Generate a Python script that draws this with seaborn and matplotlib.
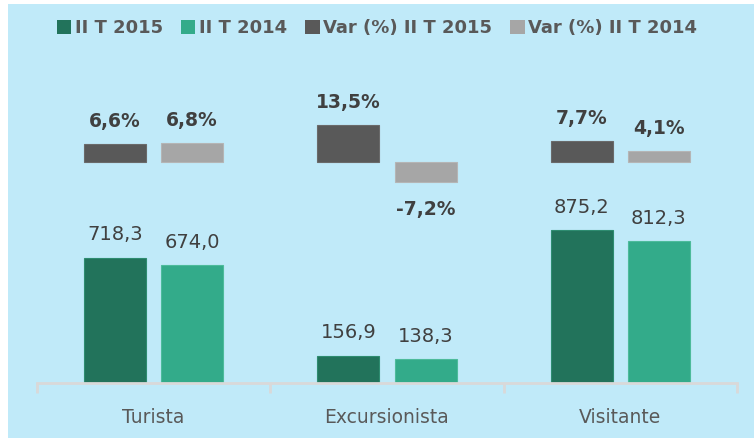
import matplotlib.pyplot as plt
import pandas as pd
import seaborn as sns
from matplotlib.patches import Patch, Rectangle

plt.switch_backend("Agg")

categories = ["Turista", "Excursionista", "Visitante"]
series = ["II T 2015", "II T 2014"]
var_series = ["Var (%) II T 2015", "Var (%) II T 2014"]
values_2015 = [718.3, 156.9, 875.2]
values_2014 = [674.0, 138.3, 812.3]
var_2015 = [6.6, 13.5, 7.7]
var_2014 = [6.8, -7.2, 4.1]

colors = ["#22735B", "#33AB8A"]
var_colors = ["#595959", "#A6A6A6"]
edge_colors = ["#2E8C70", "#4DBB9B"]
var_edge_colors = ["#6A6A6A", "#B5B5B5"]
background = "#C0EAF9"
text_dark = "#404040"
text_grey = "#595959"


def comma(value: float, suffix: str = "") -> str:
    return f"{value:.1f}".replace(".", ",") + suffix


counts = pd.DataFrame(
    {
        "category": categories * 2,
        "series": [series[0]] * 3 + [series[1]] * 3,
        "value": values_2015 + values_2014,
    }
)
changes = pd.DataFrame(
    {
        "category": categories * 2,
        "series": [var_series[0]] * 3 + [var_series[1]] * 3,
        "value": var_2015 + var_2014,
    }
)

W, H = 754, 438
fig = plt.figure(figsize=(W / 100, H / 100), dpi=100, facecolor="white")
fig.patches.append(
    Rectangle((8 / W, 0), 1, (H - 4) / H, transform=fig.transFigure,
              facecolor=background, edgecolor="none", zorder=-10)
)
ax = fig.add_axes([37 / W, (H - 383) / H, 700 / W, 323 / H])
ax.set_facecolor("none")

bar_width, bar_gap = 0.661, 0.195

sns.barplot(data=counts, x="category", y="value", hue="series", hue_order=series,
            palette=colors, width=bar_width, gap=bar_gap, ax=ax, legend=False,
            linewidth=0.8, saturation=1)
for container, edge in zip(ax.containers, edge_colors):
    for patch in container:
        patch.set_edgecolor(edge)

ax2 = ax.twinx()
ax2.set_facecolor("none")
sns.barplot(data=changes, x="category", y="value", hue="series", hue_order=var_series,
            palette=var_colors, width=bar_width, gap=bar_gap, ax=ax2, legend=False,
            linewidth=0.8, saturation=1)
for container, edge in zip(ax2.containers, var_edge_colors):
    for patch in container:
        patch.set_edgecolor(edge)
ax2.set_ylim(-(383 - 162) / 2.73, (162 - 60) / 2.73)
ax.set_ylim(0, 323 / 0.1745)

for container, vals in zip(ax.containers, [values_2015, values_2014]):
    ax.bar_label(container, labels=[comma(v) for v in vals], padding=9.5,
                 fontsize=14, color=text_dark)
for container, vals in zip(ax2.containers, [var_2015, var_2014]):
    ax2.bar_label(container, labels=[comma(v, "%") if v >= 0 else "" for v in vals],
                  padding=9.5, fontsize=13.5, fontweight="bold", color=text_dark)
    ax2.bar_label(container, labels=[comma(v, "%") if v < 0 else "" for v in vals],
                  padding=13, fontsize=13.5, fontweight="bold", color=text_dark)

for axis in (ax, ax2):
    for side in ("top", "right", "left", "bottom"):
        axis.spines[side].set_visible(False)
    axis.set_yticks([])
    axis.set_xlabel("")
    axis.set_ylabel("")

ax.spines["bottom"].set_visible(True)
ax.spines["bottom"].set_color("#D9D9D9")
ax.spines["bottom"].set_linewidth(2)
ax.set_xlim(-0.5, 2.5)
ax.set_xticks(range(len(categories)))
ax.set_xticklabels(categories, fontsize=13.5, color=text_grey)
ax.tick_params(axis="x", which="major", length=0, pad=18)
ax.set_xticks([-0.5, 0.5, 1.5, 2.5], minor=True)
ax.tick_params(axis="x", which="minor", length=7, width=2, color="#D9D9D9")

handles = [Patch(facecolor=c, edgecolor="none") for c in colors + var_colors]
fig.legend(handles, series + var_series, loc="center", ncol=4,
           bbox_to_anchor=(0.5, 1 - 28 / H), frameon=False,
           prop={"weight": "bold", "size": 13}, labelcolor=text_grey,
           handlelength=0.8, handleheight=0.8, handletextpad=0.2,
           columnspacing=1.0)

fig.savefig("out.png", dpi=100)
